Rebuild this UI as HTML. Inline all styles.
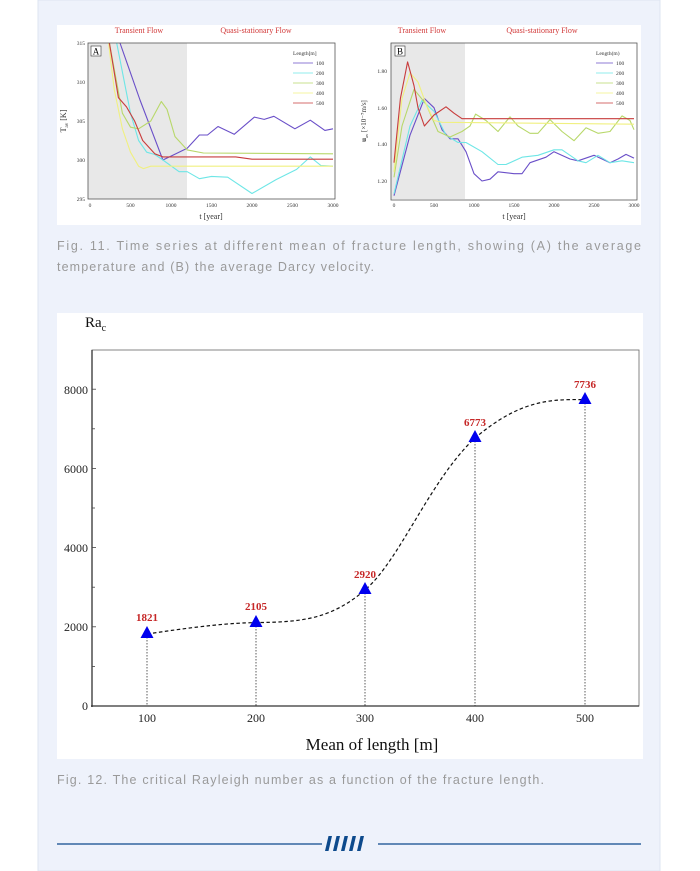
<!DOCTYPE html>
<html><head><meta charset="utf-8"><style>
html,body{margin:0;padding:0;background:#fff;}
svg{display:block;}
</style></head><body>
<svg width="700" height="871" viewBox="0 0 700 871" xmlns="http://www.w3.org/2000/svg" font-family="Liberation Serif, serif">
<rect x="38" y="0" width="622" height="871" fill="#eef2fb" stroke="#dde4f2"/>
<rect x="57" y="25" width="584" height="200" fill="#fff"/>
<g font-size="8" fill="#d23a3a" text-anchor="middle">
<text x="139" y="33">Transient Flow</text><text x="256" y="33">Quasi-stationary Flow</text>
<text x="422" y="33">Transient Flow</text><text x="542" y="33">Quasi-stationary Flow</text>
</g>
<rect x="88" y="43" width="99" height="156" fill="#e8e8e8"/>
<g fill="none" stroke-width="1.1" stroke-linejoin="round">
<polyline stroke="#6a4fc8" points="120,43 140,100 162.9,160 171,156.1 187.2,148.3 199.4,135 207.5,135 218,126.5 234.2,134.3 254.4,117.1 264.2,119.4 273.9,116.3 294.9,128.8 310.3,120.2 324.9,130.4 333,128.8"/>
<polyline stroke="#6ee6e6" points="116.7,43 130.5,113.2 138.6,140.5 146.7,152.2 154.8,154.5 162.9,160 179.1,171.7 187.2,171.7 199.4,178.7 211.5,176.4 227.7,177.2 252,193.5 276.3,179.5 296.6,169.4 310.3,156.9 320.9,165.5 333,166.2"/>
<polyline stroke="#b8d86a" points="109.4,43 122.4,113.2 130.5,127.2 138.6,128.8 150.8,121 161.3,101.5 167,109.3 175,136.6 187.2,149.9 203.4,153 333,153.8"/>
<polyline stroke="#f0f080" points="108.6,43 114.3,89.8 122.4,128.8 130.5,152.2 138.6,166.2 143.5,168.6 150.8,166.2 333,166.2"/>
<polyline stroke="#c83c3c" points="109.4,43 118.4,97.6 126.5,106.9 134.6,121 142.7,140.5 154.8,153.8 162.9,156.9 235.8,156.9 252,159.2 333,159.2"/>
</g>
<rect x="88" y="43" width="247" height="156" fill="none" stroke="#555" stroke-width="0.8"/>
<rect x="91" y="46" width="10" height="10" fill="#fff" stroke="#333" stroke-width="0.6"/>
<text x="96" y="54.5" font-size="9" text-anchor="middle">A</text>
<g font-size="5.5" fill="#333" text-anchor="end">
<text x="85" y="45">315</text><text x="85" y="84">310</text><text x="85" y="123">305</text><text x="85" y="162">300</text><text x="85" y="201">295</text>
</g>
<g font-size="5.5" fill="#333" text-anchor="middle">
<text x="90" y="207">0</text><text x="130.5" y="207">500</text><text x="171" y="207">1000</text><text x="211.5" y="207">1500</text><text x="252" y="207">2000</text><text x="292.5" y="207">2500</text><text x="333" y="207">3000</text>
</g>
<text x="211" y="219" font-size="8" text-anchor="middle" fill="#333">t [year]</text>
<text transform="translate(66,121) rotate(-90)" font-size="8" text-anchor="middle" fill="#333">T<tspan font-size="5" dy="2">av</tspan><tspan dy="-2"> [K]</tspan></text>
<g font-size="5.5" fill="#333"><text x="293" y="55">Length[m]</text></g>
<g font-size="5.5" fill="#333" stroke-width="0.8">
<line x1="293" y1="63" x2="313" y2="63" stroke="#6a4fc8"/><text x="316" y="65">100</text>
<line x1="293" y1="73" x2="313" y2="73" stroke="#6ee6e6"/><text x="316" y="75">200</text>
<line x1="293" y1="83" x2="313" y2="83" stroke="#b8d86a"/><text x="316" y="85">300</text>
<line x1="293" y1="93" x2="313" y2="93" stroke="#f0f080"/><text x="316" y="95">400</text>
<line x1="293" y1="103" x2="313" y2="103" stroke="#c83c3c"/><text x="316" y="105">500</text>
</g>
<rect x="391" y="43" width="74" height="156" fill="#e8e8e8"/>
<g fill="none" stroke-width="1.1" stroke-linejoin="round">
<polyline stroke="#6a4fc8" points="394,195.7 410,135.2 424.4,98.5 434,107.7 442,129.7 450,138.8 458,138.8 466,151.7 474,173.7 482,181 490,179.2 498,171.8 514,173.7 522,173.7 530,162.7 546,157.2 554,151.7 570,159 578,160.8 594,155.3 610,162.7 618,159 626,154.4 634,158.1"/>
<polyline stroke="#6ee6e6" points="394,193.8 410,126 422,100.3 434,111.3 446,135.2 458,142.5 466,142.5 482,151.7 498,164.5 506,164.5 522,157.2 538,155.3 554,149.8 562,149.8 578,160.8 586,162.7 598,155.3 610,162.7 622,160.8 634,162.7"/>
<polyline stroke="#b8d86a" points="394,177.3 402,126 414,89.4 426,104 438,131.5 450,137 462,131.5 470,126 475.6,114.1 486,120.5 498,131.5 510,116.8 518,126 530,133.3 538,133.3 550,119.6 562,131.5 574,140.7 586,127.8 598,133.3 610,131.5 622,115.9 630,120.5 634,129.7"/>
<polyline stroke="#f0f080" points="394,171.8 402,98.5 410,72.9 418,82 426,104 434,120.5 442,122.3 634,124.2"/>
<polyline stroke="#c83c3c" points="394,162.7 400.4,98.5 407.6,61.9 414,85.7 418,107.7 424.4,126 434,115 446,106.8 454,113.2 462,118.7 634,118.7"/>
</g>
<rect x="391" y="43" width="246" height="157" fill="none" stroke="#555" stroke-width="0.8"/>
<rect x="395" y="46" width="10" height="10" fill="#fff" stroke="#333" stroke-width="0.6"/>
<text x="400" y="54.5" font-size="9" text-anchor="middle">B</text>
<g font-size="5.5" fill="#333" text-anchor="end">
<text x="387" y="73">1.80</text><text x="387" y="110">1.60</text><text x="387" y="146">1.40</text><text x="387" y="183">1.20</text>
</g>
<g font-size="5.5" fill="#333" text-anchor="middle">
<text x="394" y="207">0</text><text x="434" y="207">500</text><text x="474" y="207">1000</text><text x="514" y="207">1500</text><text x="554" y="207">2000</text><text x="594" y="207">2500</text><text x="634" y="207">3000</text>
</g>
<text x="514" y="219" font-size="8" text-anchor="middle" fill="#333">t [year]</text>
<text transform="translate(366,121) rotate(-90)" font-size="7" text-anchor="middle" fill="#333"><tspan font-weight="bold">u</tspan><tspan font-size="4.5" dy="2">av</tspan><tspan dy="-2"> [×10⁻⁷m/s]</tspan></text>
<g font-size="5.5" fill="#333"><text x="596" y="55">Length(m)</text></g>
<g font-size="5.5" fill="#333" stroke-width="0.8">
<line x1="596" y1="63" x2="613" y2="63" stroke="#6a4fc8"/><text x="616" y="65">100</text>
<line x1="596" y1="73" x2="613" y2="73" stroke="#6ee6e6"/><text x="616" y="75">200</text>
<line x1="596" y1="83" x2="613" y2="83" stroke="#b8d86a"/><text x="616" y="85">300</text>
<line x1="596" y1="93" x2="613" y2="93" stroke="#f0f080"/><text x="616" y="95">400</text>
<line x1="596" y1="103" x2="613" y2="103" stroke="#c83c3c"/><text x="616" y="105">500</text>
</g>
<g font-family="Liberation Sans, sans-serif" font-size="12.5" fill="#9a9a9a">
<text x="57" y="250" textLength="584" lengthAdjust="spacing">Fig. 11. Time series at different mean of fracture length, showing (A) the average</text>
<text x="57" y="271" textLength="317" lengthAdjust="spacing">temperature and (B) the average Darcy velocity.</text>
<text x="57" y="784" textLength="487" lengthAdjust="spacing">Fig. 12. The critical Rayleigh number as a function of the fracture length.</text>
</g>
<rect x="57" y="313" width="586" height="446" fill="#fff"/>
<text x="85" y="327" font-size="15" fill="#111">Ra<tspan font-size="10" dy="4">c</tspan></text>
<rect x="92" y="350" width="547" height="356" fill="none" stroke="#666" stroke-width="0.8"/>
<line x1="92" y1="350" x2="92" y2="707" stroke="#333" stroke-width="1.3"/>
<line x1="91" y1="706" x2="639" y2="706" stroke="#333" stroke-width="1.3"/>
<g stroke="#444" stroke-width="0.8">
<line x1="92" y1="389.2" x2="96" y2="389.2"/><line x1="92" y1="468.4" x2="96" y2="468.4"/><line x1="92" y1="547.6" x2="96" y2="547.6"/><line x1="92" y1="626.8" x2="96" y2="626.8"/>
<line x1="92" y1="428.8" x2="95" y2="428.8"/><line x1="92" y1="508" x2="95" y2="508"/><line x1="92" y1="587.2" x2="95" y2="587.2"/><line x1="92" y1="666.4" x2="95" y2="666.4"/>
</g>
<g font-size="12" fill="#222" text-anchor="end">
<text x="88" y="394">8000</text><text x="88" y="473">6000</text><text x="88" y="552">4000</text><text x="88" y="631">2000</text><text x="88" y="710">0</text>
</g>
<g font-size="12" fill="#222" text-anchor="middle">
<text x="147" y="722">100</text><text x="256" y="722">200</text><text x="365" y="722">300</text><text x="475" y="722">400</text><text x="585" y="722">500</text>
</g>
<text x="372" y="750" font-size="17" fill="#111" text-anchor="middle">Mean of length [m]</text>
<g stroke="#333" stroke-width="0.8" stroke-dasharray="1.5,1.5">
<line x1="147" y1="634" x2="147" y2="706"/><line x1="256" y1="623" x2="256" y2="706"/><line x1="365" y1="590" x2="365" y2="706"/><line x1="475" y1="438" x2="475" y2="706"/><line x1="585" y1="400" x2="585" y2="706"/>
</g>
<path d="M147,634 C200,626 230,623 256,622.6 C300,622 330,620 365,590 C400,560 430,480 475,438 C520,400 550,399 585,399.7" fill="none" stroke="#111" stroke-width="1.2" stroke-dasharray="3.5,2.5"/>
<g fill="#0000ee">
<polygon points="147,626 140.5,638 153.5,638"/>
<polygon points="256,615 249.5,627 262.5,627"/>
<polygon points="365,582 358.5,594 371.5,594"/>
<polygon points="475,430 468.5,442 481.5,442"/>
<polygon points="585,392 578.5,404 591.5,404"/>
</g>
<g font-size="11" font-weight="bold" fill="#c62828" text-anchor="middle">
<text x="147" y="621">1821</text><text x="256" y="610">2105</text><text x="365" y="578">2920</text><text x="475" y="426">6773</text><text x="585" y="388">7736</text>
</g>
<g stroke="#0d4a8c" stroke-width="1.2"><line x1="57" y1="844" x2="322" y2="844"/><line x1="378" y1="844" x2="641" y2="844"/></g>
<g fill="#0d4a8c">
<polygon points="325,851 328.5,851 332,836 328.5,836"/>
<polygon points="333,851 336.5,851 340,836 336.5,836"/>
<polygon points="341,851 344.5,851 348,836 344.5,836"/>
<polygon points="349,851 352.5,851 356,836 352.5,836"/>
<polygon points="357,851 360.5,851 364,836 360.5,836"/>
</g>
</svg>
</body></html>
